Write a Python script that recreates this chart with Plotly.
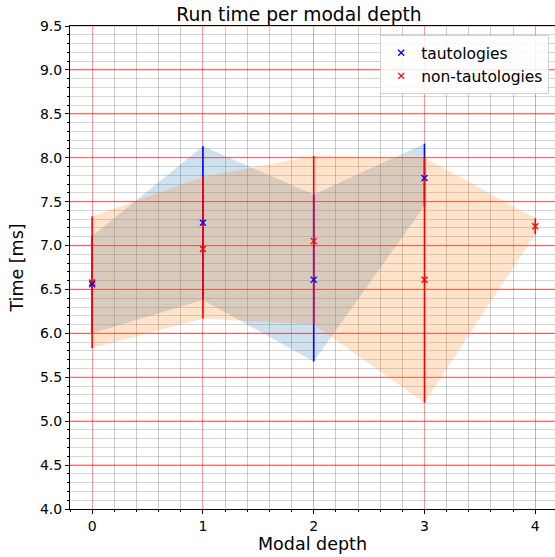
import plotly.graph_objects as go

# ---- data ----
depth_taut = [0, 1, 2, 3]
taut_mean = [6.56, 7.26, 6.61, 7.77]
taut_low = [6.00, 6.38, 5.68, 7.45]
taut_high = [7.11, 8.13, 7.58, 8.16]

depth_non = [0, 1, 2, 3, 4]
non_mean = [6.58, 6.96, 7.05, 6.61, 7.22]
non_low = [5.83, 6.17, 6.10, 5.21, 7.13]
non_high = [7.33, 7.78, 8.02, 8.00, 7.31]

x_ticks = [0, 1, 2, 3, 4]
y_ticks = [4.0, 4.5, 5.0, 5.5, 6.0, 6.5, 7.0, 7.5, 8.0, 8.5, 9.0, 9.5]

# minor tick positions (axis configuration), skipping major positions
x_minor = [round(-0.2 + 0.2 * i, 2) for i in range(23)]
x_minor = [v for v in x_minor if abs(v - round(v)) > 1e-6]
y_minor = [round(4.0 + 0.1 * i, 2) for i in range(56)]
y_minor = [v for v in y_minor if abs(v * 2 - round(v * 2)) > 1e-6]

FONT = "DejaVu Sans"
GRID_RED = "rgba(255,0,0,0.4)"
fig = go.Figure()

def band(xs, lo, hi, color):
    fig.add_trace(go.Scatter(
        x=list(xs) + list(xs)[::-1], y=list(hi) + list(lo)[::-1],
        fill="toself", fillcolor=color, mode="none",
        line=dict(width=0), showlegend=False, hoverinfo="skip"))

band(depth_taut, taut_low, taut_high, "rgba(31,119,180,0.22)")
band(depth_non, non_low, non_high, "rgba(255,127,14,0.22)")

def errs(xs, m, lo, hi, color):
    fig.add_trace(go.Scatter(
        x=xs, y=m, mode="markers",
        marker=dict(size=1, opacity=0, color=color),
        error_y=dict(type="data", symmetric=False,
                     array=[h - v for h, v in zip(hi, m)],
                     arrayminus=[v - l for l, v in zip(lo, m)],
                     color=color, thickness=1.6, width=0),
        showlegend=False, hoverinfo="skip"))

errs(depth_taut, taut_mean, taut_low, taut_high, "blue")
errs(depth_non, non_mean, non_low, non_high, "red")

fig.add_trace(go.Scatter(
    x=depth_non, y=non_mean, mode="markers", name="non-tautologies",
    marker=dict(symbol="x-thin", size=6, color="red",
                line=dict(width=1.3, color="red")),
    legendrank=2))
fig.add_trace(go.Scatter(
    x=depth_taut, y=taut_mean, mode="markers", name="tautologies",
    marker=dict(symbol="x-thin", size=6, color="blue",
                line=dict(width=1.3, color="blue")),
    legendrank=1))

# major horizontal grid lines (red) on top of the minor grid
for yv in y_ticks[1:]:
    fig.add_hline(y=yv, line=dict(color=GRID_RED, width=1.2), layer="below")

fig.update_layout(
    width=555, height=557,
    margin=dict(l=70, r=0, t=26, b=48),
    paper_bgcolor="white", plot_bgcolor="white",
    font=dict(family=FONT, color="black", size=14),
    title=dict(text="Run time per modal depth", x=299 / 555, xanchor="center",
               y=1 - 14 / 557, yanchor="middle", yref="container",
               font=dict(size=18.7, family=FONT, color="black")),
    showlegend=True,
    legend=dict(x=0.988, xanchor="right", y=0.981, yanchor="top",
                bgcolor="rgba(255,255,255,0.85)", bordercolor="#d0d0d0",
                borderwidth=1, font=dict(size=15.5, family=FONT),
                tracegroupgap=4),
)

fig.update_xaxes(
    range=[-0.2, 4.178], tickmode="array", tickvals=x_ticks,
    ticktext=[str(v) for v in x_ticks],
    showline=True, linecolor="black", linewidth=1, mirror=True,
    ticks="outside", ticklen=4, tickcolor="black", tickfont=dict(size=14),
    showgrid=True, gridcolor=GRID_RED, gridwidth=1.1,
    zeroline=False,
    minor=dict(tickmode="array", tickvals=x_minor, showgrid=True,
               gridcolor="rgba(0,0,0,0.2)", gridwidth=1,
               ticks="outside", ticklen=2, tickcolor="black"),
    title=dict(text="Modal depth", font=dict(size=17.5, family=FONT), standoff=3),
)
fig.update_yaxes(
    range=[4.0, 9.5], tickmode="array", tickvals=y_ticks,
    ticktext=[f"{v:.1f}" for v in y_ticks],
    showline=True, linecolor="black", linewidth=1,
    ticks="outside", ticklen=4, tickcolor="black", tickfont=dict(size=14),
    showgrid=True, gridcolor=GRID_RED, gridwidth=1.2,
    zeroline=False,
    minor=dict(tickmode="array", tickvals=y_minor, showgrid=True,
               gridcolor="rgba(0,0,0,0.16)", gridwidth=1,
               ticks="outside", ticklen=2, tickcolor="black"),
    title=dict(text="Time [ms]", font=dict(size=17.5, family=FONT), standoff=11),
)

fig.write_html("out.html", config={"displayModeBar": False},
               post_script="document.body.style.margin='0px';document.body.style.overflow='hidden';")
